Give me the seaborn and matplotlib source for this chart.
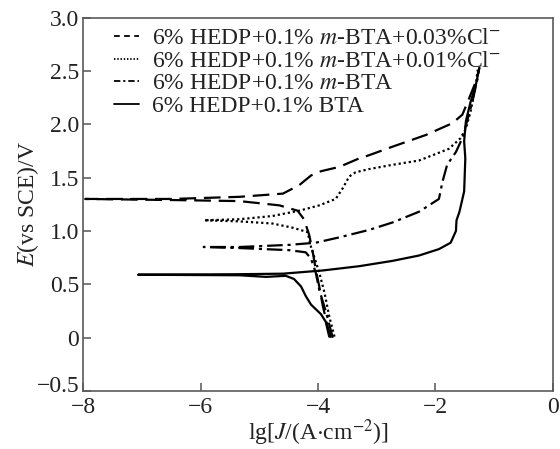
import numpy as np
import pandas as pd
import matplotlib
matplotlib.use("Agg")
import matplotlib.pyplot as plt
import matplotlib.transforms as mtransforms
import seaborn as sns

# Polarization curves: lg(J) and E (V vs SCE), ordered along the potential scan
labels = [
    "6% HEDP+0.1% $m$-BTA+0.03%Cl$^{-}$",
    "6% HEDP+0.1% $m$-BTA+0.01%Cl$^{-}$",
    "6% HEDP+0.1% $m$-BTA",
    "6% HEDP+0.1% BTA",
]

lgj_cl003 = [-3.78, -3.84, -3.92, -3.98, -4.04, -4.09, -4.15, -4.24, -4.35, -4.66, -5.34, -6.5, -7.97,
             -6.5, -5.34, -4.60, -4.32, -4.12, -3.95, -3.64, -3.30, -3.13, -2.73, -2.16, -1.71, -1.54,
             -1.42, -1.31, -1.25]
e_cl003 = [0.00, 0.11, 0.30, 0.48, 0.64, 0.80, 0.96, 1.11, 1.19, 1.24, 1.28, 1.29, 1.30,
           1.30, 1.32, 1.35, 1.43, 1.52, 1.56, 1.60, 1.68, 1.71, 1.79, 1.90, 2.01, 2.09,
           2.25, 2.40, 2.53]

lgj_cl001 = [-3.72, -3.81, -3.89, -3.98, -4.12, -4.18, -4.43, -4.78, -5.34, -5.94,
             -5.34, -4.78, -4.32, -3.98, -3.70, -3.58, -3.47, -3.36, -3.13, -2.73, -2.28,
             -2.00, -1.77, -1.57, -1.48, -1.40, -1.31, -1.28]
e_cl001 = [0.01, 0.20, 0.42, 0.61, 0.85, 0.99, 1.03, 1.07, 1.09, 1.10,
           1.11, 1.14, 1.19, 1.24, 1.30, 1.40, 1.51, 1.55, 1.58, 1.62, 1.66,
           1.72, 1.77, 1.87, 1.96, 2.12, 2.37, 2.51]

lgj_mbta = [-3.75, -3.86, -3.98, -4.04, -4.12, -4.21, -4.49, -5.34, -5.95,
            -5.34, -4.49, -4.04, -3.64, -3.13, -2.73, -2.28, -1.94, -1.88, -1.80, -1.65,
            -1.54, -1.48, -1.37, -1.28, -1.26]
e_mbta = [0.00, 0.23, 0.45, 0.61, 0.74, 0.80, 0.82, 0.84, 0.85,
          0.85, 0.87, 0.89, 0.94, 1.01, 1.08, 1.18, 1.30, 1.46, 1.62, 1.74,
          1.87, 1.99, 2.21, 2.43, 2.51]

lgj_bta = [-3.81, -3.87, -3.95, -4.12, -4.21, -4.29, -4.41, -4.55, -4.89, -5.34, -7.07,
           -5.34, -4.60, -3.92, -3.30, -2.73, -2.28, -1.94, -1.74, -1.65, -1.64, -1.59,
           -1.51, -1.49, -1.51, -1.48, -1.40, -1.31, -1.25]
e_bta = [0.01, 0.15, 0.22, 0.31, 0.39, 0.48, 0.55, 0.58, 0.57, 0.585, 0.59,
         0.595, 0.60, 0.63, 0.67, 0.72, 0.77, 0.83, 0.89, 1.00, 1.10, 1.18,
         1.37, 1.68, 1.84, 2.03, 2.21, 2.37, 2.53]

xticks = [-8, -6, -4, -2, 0]
yticks = [-0.5, 0, 0.5, 1.0, 1.5, 2.0, 2.5, 3.0]
ytick_labels = ["\u22120.5", "0", "0.5", "1.0", "1.5", "2.0", "2.5", "3.0"]

series = [(lgj_cl003, e_cl003), (lgj_cl001, e_cl001), (lgj_mbta, e_mbta), (lgj_bta, e_bta)]
line_styles = [(0, (7.5, 3.5)), (0, (1.0, 1.3)), (0, (7, 2.2, 1.4, 2.2)), "-"]
handle_styles = [(0, (3.2, 2.4)), (0, (0.8, 1.0)), (0, (3.5, 1.6, 1.2, 1.6)), "-"]

sns.set_theme(style="ticks")
plt.rcParams["font.family"] = ["Liberation Serif", "DejaVu Serif"]
plt.rcParams["mathtext.fontset"] = "stix"
plt.rcParams["axes.unicode_minus"] = True

FS = 17

fig = plt.figure(figsize=(5.6, 4.49), dpi=100)
ax = fig.add_axes([0.149, 0.129, 0.838, 0.832])

for (xs, ys), lab, ls in zip(series, labels, line_styles):
    df = pd.DataFrame({"lgJ": xs, "E": ys})
    sns.lineplot(data=df, x="lgJ", y="E", sort=False, estimator=None, ax=ax,
                 color="black", linewidth=1.6, linestyle=ls, label=lab)

ax.set_xlim(-8, 0)
ax.set_ylim(-0.5, 3.0)
ax.set_xticks(xticks)
ax.set_xticklabels([("\u2212" + str(abs(t))) if t < 0 else str(t) for t in xticks])
ax.set_yticks(yticks)
ax.set_yticklabels(ytick_labels)
ax.tick_params(direction="in", length=5.5, width=1.1, color="#555555",
               labelsize=FS, labelcolor="#222222")
ax.tick_params(axis="x", pad=4)
ax.tick_params(axis="y", pad=3)

# lift the lowest y tick label a little so it clears the first x tick label
lift = mtransforms.ScaledTranslation(0, 5 / 72, fig.dpi_scale_trans)
lowest = ax.get_yticklabels()[0]
lowest.set_transform(lowest.get_transform() + lift)

for sp in ax.spines.values():
    sp.set_visible(True)
    sp.set_color("#5a5a5a")
    sp.set_linewidth(1.2)

ax.set_xlabel(r"lg[$J$/(A$\cdot$cm$^{-2}$)]", fontsize=FS, color="#222222", labelpad=0)
ax.set_ylabel(r"$E$(vs SCE)/V", fontsize=FS, color="#222222", labelpad=-3)

leg = ax.legend(loc="upper left", bbox_to_anchor=(0.055, 0.985), frameon=False,
                fontsize=FS, handlelength=1.05, handletextpad=0.55,
                labelspacing=0.04, borderaxespad=0.0, borderpad=0.2)
for t in leg.get_texts():
    t.set_color("#222222")
for h, hs in zip(leg.get_lines(), handle_styles):
    h.set_linewidth(1.3)
    h.set_linestyle(hs)

fig.savefig("out.png", dpi=100)
